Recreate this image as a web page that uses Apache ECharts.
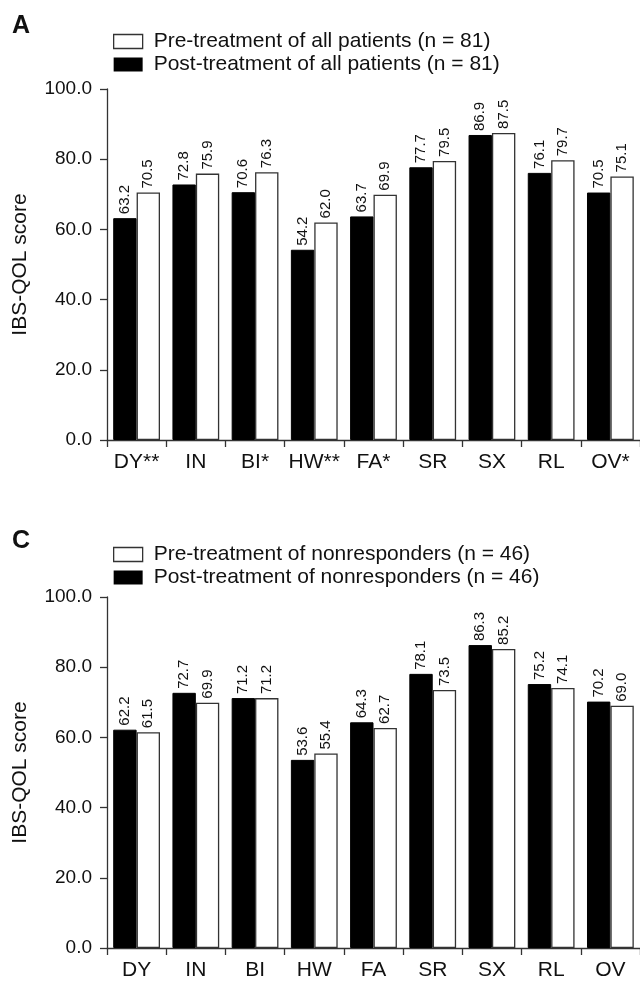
<!DOCTYPE html>
<html><head><meta charset="utf-8">
<script src="https://cdn.jsdelivr.net/npm/echarts@6/dist/echarts.min.js"></script>
<style>html,body{margin:0;padding:0;background:#fff}#c{width:640px;height:983px}</style>
</head><body><div id="c"></div>
<script>
var catsA = ['DY**','IN','BI*','HW**','FA*','SR','SX','RL','OV*'];
var postA = [63.2, 72.8, 70.6, 54.2, 63.7, 77.7, 86.9, 76.1, 70.5];
var preA  = [70.5, 75.9, 76.3, 62.0, 69.9, 79.5, 87.5, 79.7, 75.1];
var catsC = ['DY','IN','BI','HW','FA','SR','SX','RL','OV'];
var postC = [62.2, 72.7, 71.2, 53.6, 64.3, 78.1, 86.3, 75.2, 70.2];
var preC  = [61.5, 69.9, 71.2, 55.4, 62.7, 73.5, 85.2, 74.1, 69.0];
var yTicks = [0, 20, 40, 60, 80, 100];

var FONT = '"Liberation Sans", Arial, sans-serif';
var AX = '#333';
var chart = echarts.init(document.getElementById('c'), null, {renderer:'canvas'});

function xAxis(idx, cats){
  return {type:'category', gridIndex:idx, data:cats,
    axisLine:{lineStyle:{color:AX,width:1.3}},
    axisTick:{show:true,length:7,alignWithLabel:false,lineStyle:{color:AX,width:1.3}},
    axisLabel:{color:'#111',fontSize:21,fontFamily:FONT,margin:12,interval:0}};
}
function yAxis(idx){
  return {type:'value', gridIndex:idx, min:yTicks[0], max:yTicks[yTicks.length-1], interval:20,
    name:'IBS-QOL score', nameLocation:'middle', nameGap:76, nameRotate:90,
    nameTextStyle:{color:'#111',fontSize:21,fontFamily:FONT},
    axisLine:{show:true,lineStyle:{color:AX,width:1.3}},
    axisTick:{show:true,length:7,lineStyle:{color:AX,width:1.3}},
    splitLine:{show:false},
    axisLabel:{color:'#111',fontSize:19,fontFamily:FONT,margin:15,formatter:function(v){return v.toFixed(1);}}};
}
function lbl(){
  return {show:true, position:'top', rotate:90, align:'left', verticalAlign:'middle', distance:4,
    fontSize:15, fontFamily:FONT, color:'#111', formatter:function(p){return p.value.toFixed(1);}};
}
function bar(name, idx, data, black){
  return {name:name, type:'bar', xAxisIndex:idx, yAxisIndex:idx, data:data,
    barGap:'0%', barCategoryGap:'21%',
    itemStyle: black ? {color:'#000', borderColor:'#000', borderWidth:1} : {color:'#fff', borderColor:'#333', borderWidth:1.3},
    label:lbl(), silent:true, animation:false};
}
function legend(idx, top, names){
  return {orient:'vertical', left:108, top:top, itemWidth:29, itemHeight:14, itemGap:2, icon:'rect',
    data:[{name:names[0], icon:'rect', itemStyle:{color:'#fff',borderColor:'#333',borderWidth:1.3}},{name:names[1], icon:'rect', itemStyle:{color:'#000',borderWidth:0}}],
    textStyle:{fontSize:21, fontFamily:FONT, color:'#111', lineHeight:21, padding:[0,0,0,6]},
    selectedMode:false};
}
var preNameA = 'Pre-treatment of all patients (n = 81)';
var postNameA = 'Post-treatment of all patients (n = 81)';
var preNameC = 'Pre-treatment of nonresponders (n = 46)';
var postNameC = 'Post-treatment of nonresponders (n = 46)';

chart.setOption({
  animation:false,
  title:[
    {text:'A', left:7, top:9, textStyle:{fontSize:25, fontWeight:'bold', fontFamily:FONT, color:'#111'}},
    {text:'C', left:7, top:524, textStyle:{fontSize:25, fontWeight:'bold', fontFamily:FONT, color:'#111'}}
  ],
  legend:[legend(0, 26, [preNameA, postNameA]), legend(1, 539, [preNameC, postNameC])],
  grid:[
    {left:107, top:89, width:534, height:351},
    {left:107, top:597, width:534, height:351}
  ],
  xAxis:[xAxis(0, catsA), xAxis(1, catsC)],
  yAxis:[yAxis(0), yAxis(1)],
  series:[
    bar(postNameA, 0, postA, true),
    bar(preNameA, 0, preA, false),
    bar(postNameC, 1, postC, true),
    bar(preNameC, 1, preC, false)
  ]
});
</script></body></html>
